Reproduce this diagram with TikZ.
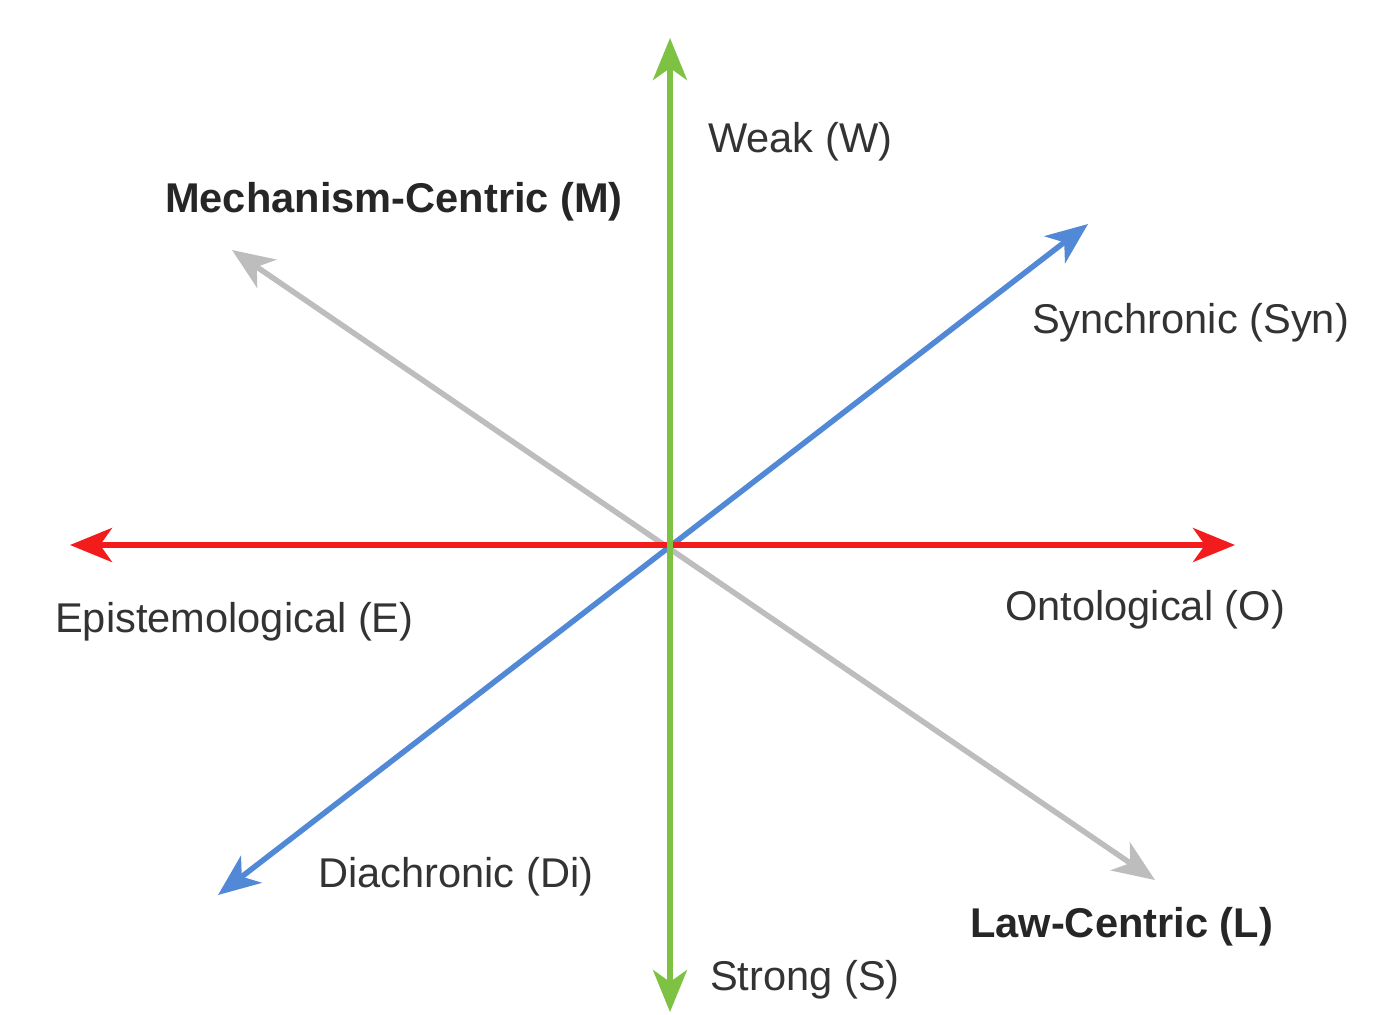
\documentclass[tikz,border=0pt]{standalone}
\usepackage{fontspec}
\setmainfont{Liberation Sans}
\usetikzlibrary{arrows.meta}
\definecolor{axgreen}{HTML}{7DC242}
\definecolor{axred}{HTML}{F21C1C}
\definecolor{axblue}{HTML}{5289D6}
\definecolor{axgray}{HTML}{BDBDBD}
\definecolor{txt}{HTML}{333333}
\tikzset{
  axis/.style={line width=5.5pt, {Stealth[length=42pt,width=34pt,inset=12pt]}-{Stealth[length=42pt,width=34pt,inset=12pt]}},
  lab/.style={anchor=base west, inner sep=0pt, text=txt, font=\fontsize{41.6}{48}\selectfont},
  blab/.style={lab, text=black!85, font=\fontsize{41.6}{48}\selectfont\bfseries}
}
\begin{document}
\begin{tikzpicture}[x=1pt,y=-1pt]
\useasboundingbox (0,0) rectangle (1382,1015);
\fill[white] (0,0) rectangle (1382,1015);
\coordinate (Wt) at (670,38);
\coordinate (St) at (670,1012);
\coordinate (Et) at (70,545);
\coordinate (Ot) at (1235,545);
\coordinate (Synt) at (1088,224);
\coordinate (Dit) at (218,895);
\coordinate (Mt) at (232,250);
\coordinate (Lt) at (1155,880);
\draw[axis, axgray] (Mt) -- (Lt);
\draw[axis, axblue] (Dit) -- (Synt);
\draw[axis, axred] (Et) -- (Ot);
\draw[axis, axgreen] (St) -- (Wt);
\node[lab] (W) at (708,152) {Weak (W)};
\node[blab] (M) at (165,212) {Mechanism-Centric (M)};
\node[lab] (Syn) at (1032,333) {Synchronic (Syn)};
\node[lab] (E) at (55,632) {Epistemological (E)};
\node[lab] (O) at (1005,620) {Ontological (O)};
\node[lab] (Di) at (318,887) {Diachronic (Di)};
\node[blab] (L) at (970,937) {Law-Centric (L)};
\node[lab] (S) at (710,990) {Strong (S)};
\end{tikzpicture}
\end{document}
